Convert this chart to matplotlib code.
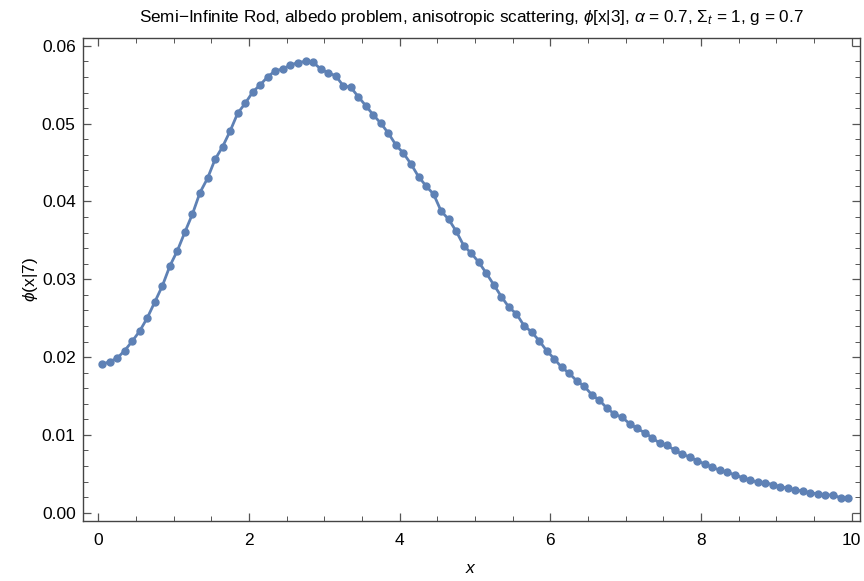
import numpy as np
import matplotlib
matplotlib.use("Agg")
import matplotlib.pyplot as plt
from matplotlib.ticker import MultipleLocator

plt.rcParams['font.family'] = ['Liberation Sans', 'DejaVu Sans']
plt.rcParams['mathtext.fontset'] = 'custom'
plt.rcParams['mathtext.rm'] = 'Liberation Sans'
plt.rcParams['mathtext.it'] = 'Liberation Sans:italic'

# bin centres 0.05 ... 9.95
x = np.arange(100) * 0.1 + 0.05
phi = [0.01907, 0.01941, 0.01985, 0.02083, 0.02203, 0.02335, 0.02503, 0.02708, 0.02914, 0.03171,
       0.03368, 0.03608, 0.03839, 0.04115, 0.04298, 0.04542, 0.04704, 0.04906, 0.05134, 0.05262,
       0.05407, 0.05501, 0.05604, 0.05681, 0.05703, 0.05755, 0.05784, 0.05802, 0.05789, 0.05705,
       0.05652, 0.05617, 0.05488, 0.05468, 0.05347, 0.05231, 0.05112, 0.05005, 0.04877, 0.04726,
       0.04620, 0.04482, 0.04319, 0.04199, 0.04093, 0.03876, 0.03771, 0.03617, 0.03432, 0.03334,
       0.03219, 0.03077, 0.02927, 0.02776, 0.02640, 0.02554, 0.02404, 0.02323, 0.02211, 0.02082,
       0.01979, 0.01867, 0.01792, 0.01693, 0.01625, 0.01515, 0.01445, 0.01344, 0.01267, 0.01226,
       0.01145, 0.01083, 0.01028, 0.00964, 0.00892, 0.00866, 0.00802, 0.00751, 0.00716, 0.00665,
       0.00626, 0.00581, 0.00545, 0.00519, 0.00485, 0.00450, 0.00420, 0.00391, 0.00386, 0.00360,
       0.00334, 0.00314, 0.00292, 0.00275, 0.00257, 0.00240, 0.00231, 0.00224, 0.00193, 0.00185]

col = '#5E81B5'
fig = plt.figure(figsize=(8.64, 5.81), dpi=100)
ax = fig.add_axes([0.0957, 0.1033, 0.8997, 0.8318])
ax.plot(x, phi, color=col, lw=2, marker='o', ms=5, mec=col, mfc=col)

ax.set_xlim(-0.207, 10.109)
ax.set_ylim(-0.00107, 0.06105)
ax.xaxis.set_major_locator(MultipleLocator(2))
ax.xaxis.set_minor_locator(MultipleLocator(0.5))
ax.yaxis.set_major_locator(MultipleLocator(0.01))
ax.yaxis.set_minor_locator(MultipleLocator(0.002))
ax.yaxis.set_major_formatter(plt.FormatStrFormatter('%.2f'))
ax.tick_params(which='both', direction='in', top=True, right=True, color='#555555',
               labelsize=12.5)
ax.tick_params(axis='x', which='both', pad=9)
ax.tick_params(axis='y', which='both', pad=5)
ax.tick_params(which='major', length=6, width=0.9)
ax.tick_params(which='minor', length=3.5, width=0.7)
for s in ax.spines.values():
    s.set_color('#444444')
    s.set_linewidth(1)

ax.set_xlabel('$x$', fontsize=12.5, labelpad=9)
ax.set_ylabel(r'$\phi$(x|7)', fontsize=12.5, labelpad=1)
ax.set_title(r'Semi$-$Infinite Rod, albedo problem, anisotropic scattering, $\phi$[x|3], '
             r'$\alpha$ = 0.7, $\Sigma_t$ = 1, g = 0.7', fontsize=12.3, pad=11)

fig.savefig('out.png', dpi=100)
